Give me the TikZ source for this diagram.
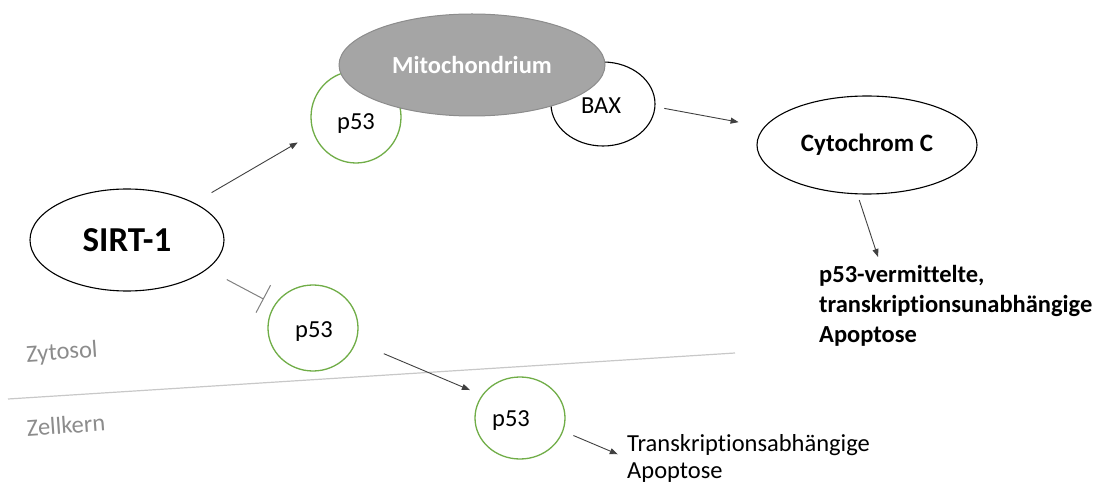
\documentclass[tikz,border=0pt]{standalone}
\usepackage{fontspec}
\setmainfont{Carlito}[Ligatures={NoCommon}]
\usetikzlibrary{shapes.geometric,arrows.meta}
\definecolor{pgreen}{HTML}{70AD47}
\definecolor{mitofill}{HTML}{A5A5A5}
\definecolor{mitoline}{HTML}{8C8C8C}
\definecolor{arrgray}{HTML}{404040}
\definecolor{labgray}{HTML}{8C8C8C}
\definecolor{sepgray}{HTML}{C8C8C8}
\tikzset{
  oval/.style={ellipse, draw=black, line width=1.1pt, fill=white, inner sep=0pt},
  pcirc/.style={ellipse, draw=pgreen, line width=1.3pt, fill=white, inner sep=0pt, minimum width=90pt, minimum height=86pt, font=\fontsize{24.5}{28}\selectfont},
  arr/.style={draw=arrgray, line width=0.9pt, -{Triangle[length=8pt,width=6pt]}},
  inh/.style={draw=gray, line width=1pt, -{Bar[width=31pt]}},
  region/.style={text=labgray, font=\fontsize{24.5}{28}\selectfont, rotate=4, inner sep=0pt}
}
\begin{document}
\begin{tikzpicture}[x=1pt,y=-1pt]
\useasboundingbox (0,0) rectangle (1100,486);
% separator
\draw[draw=sepgray, line width=1.2pt] (8,399) -- (735,353);
\node[region] (zyt) at (62,353) {Zytosol};
\node[region] (zel) at (66,425) {Zellkern};
% top cluster
\node[pcirc, minimum width=90pt, minimum height=92pt] (p53a) at (356,117) {};
\node[font=\fontsize{24.5}{28}\selectfont, inner sep=0pt] (p53atxt) at (356,124) {p53};
\node[oval, minimum width=104pt, minimum height=84pt] (bax) at (603,104) {};
\node[font=\fontsize{24.5}{28}\selectfont, inner sep=0pt] (baxtxt) at (601,106) {BAX};
\node[ellipse, draw=mitoline, fill=mitofill, line width=1pt, minimum width=266pt, minimum height=102pt, inner sep=0pt, text=white, font=\bfseries\fontsize{24.5}{28}\selectfont] (mito) at (472,65) {Mitochondrium};
% Cytochrom C
\node[oval, minimum width=220pt, minimum height=98pt, font=\bfseries\fontsize{25}{28}\selectfont] (cyto) at (867,145) {Cytochrom C};
\node[anchor=north west, align=left, inner sep=0pt, font=\bfseries\fontsize{24.5}{30}\selectfont] (apo1) at (819,265) {p53-vermittelte,\\transkriptionsunabhängige\\Apoptose};
\coordinate (c4) at (878,257);
% SIRT-1
\node[oval, minimum width=194pt, minimum height=102pt, font=\bfseries\fontsize{35}{40}\selectfont] (sirt) at (127,240) {SIRT-1};
% p53 middle / bottom
\node[pcirc, minimum width=90pt, minimum height=86pt] (p53b) at (313,328) {};
\node[font=\fontsize{24.5}{28}\selectfont, inner sep=0pt] (p53btxt) at (314,332) {p53};
\node[pcirc, minimum width=90pt, minimum height=82pt] (p53c) at (520,418) {};
\node[font=\fontsize{24.5}{28}\selectfont, inner sep=0pt] (p53ctxt) at (511,421) {p53};
\node[anchor=north west, align=left, inner sep=0pt, font=\fontsize{24.5}{27}\selectfont] (trans) at (627,434) {Transkriptionsabhängige\\Apoptose};
% connectors
\draw[arr, shorten <=20pt, shorten >=18pt] (sirt.29.5) -- (p53a.201.3);
\draw[inh, shorten <=22pt, shorten >=12pt] (sirt.-20.1) -- (p53b.149.7);
\draw[arr, shorten <=9pt, shorten >=26pt] (bax.-3.75) -- (cyto.170.3);
\draw[arr, shorten <=6pt] (cyto.259.7) -- (c4);
\draw[arr, shorten <=30pt, shorten >=13pt] (p53b.-18.9) -- (p53c.149);
\draw[arr, shorten <=11pt, shorten >=10pt] (p53c.-17.8) -- (trans.west);
\end{tikzpicture}
\end{document}
